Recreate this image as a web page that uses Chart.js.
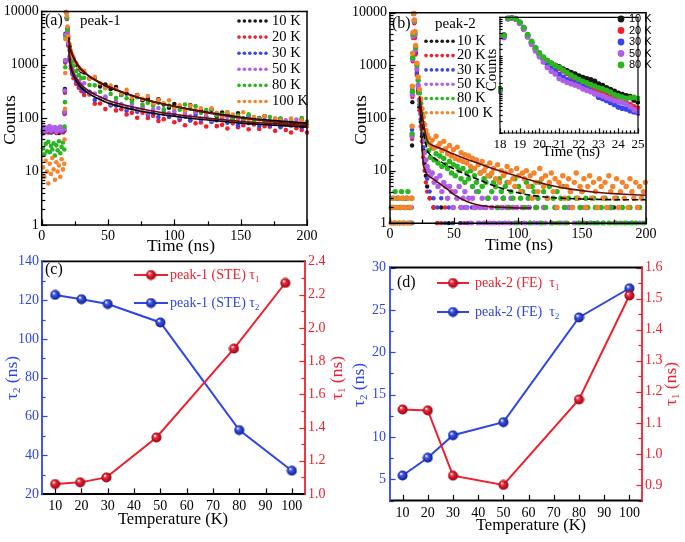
<!DOCTYPE html>
<html lang="en">
<head>
<meta charset="UTF-8">
<title>Decay curves and lifetimes</title>
<script src="https://cdn.jsdelivr.net/npm/chart.js@4"></script>
<style>
  body { margin: 0; width: 685px; height: 542px; background: #fff; position: relative; overflow: hidden; }
  canvas { position: absolute; }
</style>
</head>
<body>
<canvas id="pa" width="340" height="262" style="left:0;top:0"></canvas>
<canvas id="pb" width="345" height="262" style="left:340px;top:0"></canvas>
<canvas id="pbi" width="185" height="160" style="left:470px;top:6px"></canvas>
<canvas id="pc" width="350" height="292" style="left:0;top:250px"></canvas>
<canvas id="pd" width="345" height="292" style="left:340px;top:250px"></canvas>

<script>
// ---- data ----
const seriesLabels = ['10 K', '20 K', '30 K', '50 K', '80 K', '100 K'];

// panel (a): peak-1 decay, time (ns) vs counts
const tA = [1,2,3,4,5,6,7,8,9,10,11,12,13,14,15,16,17,
  17.25,17.5,17.75,18,18.5,19,19.5,20,21,22,23,24,26,28,30,
  32,36,40,44,48,52,56,60,64,68,72,76,80,84,88,92,96,100,104,108,112,116,120,124,128,132,136,140,144,148,
  152,156,160,164,168,172,176,180,184,188,192,196,200];
const a10 = [57,63,55,61,58,66,54,60,62,56,64,59,53,61,57,65,58,
  130,350,1200,3800,9700,7800,4800,3300,2200,1750,1450,1250,1000,850,760,
  718,556,571,392,428,351,383,272,291,226,272,218,231,185,225,181,157,184,163,144,
  177,131,143,128,144,109,128,116,103,123,99,110,85,101,109,85,88,97,77,88,78,94,72];
const a20 = [52,60,56,63,54,58,61,55,59,64,53,57,62,56,60,54,58,
  120,300,1100,3500,9500,7200,4000,2300,1200,850,680,560,440,370,320,
  273,278,186,189,148,176,140,147,117,126,102,127,101,111,89,96,105,84,93,74,
  92,80,83,70,89,71,75,64,80,68,74,62,76,63,71,69,58,71,60,54,65,60,54];
const a30 = [61,56,64,58,67,57,62,59,65,55,63,60,66,58,62,57,64,
  125,320,1150,3600,9600,7400,4200,2400,1300,950,760,630,500,420,360,
  321,313,219,236,238,174,172,180,138,154,132,155,117,126,105,131,109,119,98,108,
  91,115,94,105,85,92,103,82,92,74,92,81,85,72,92,73,80,68,85,73,80,68,84];
const a50 = [63,69,57,66,60,71,58,67,62,68,56,65,61,70,59,66,63,
  130,330,1200,3700,9700,7500,4300,2600,1450,1100,880,750,600,500,430,
  450,290,289,239,255,183,208,180,157,184,145,161,124,145,155,120,124,135,107,123,
  108,130,99,108,91,115,97,106,88,98,83,105,86,98,80,88,98,79,91,73,94,81,87];
const a80 = [27,21,33,24,36,23,30,26,34,20,31,25,37,22,29,35,26,
  70,200,900,3200,9600,7600,4500,3000,1900,1450,1150,960,760,640,560,
  572,418,412,313,365,284,238,272,236,204,246,179,194,173,194,146,173,156,144,181,
  151,168,126,142,150,114,117,127,99,113,99,118,90,99,84,105,89,98,83,93,79,101,85];
const a100 = [12,8,16,10,6,14,9,18,11,7,15,10,13,8,17,11,14,
  40,150,700,3000,9800,8200,5200,3500,2400,1850,1550,1350,1080,900,800,
  763,555,594,451,370,409,348,293,339,245,268,230,260,189,219,191,216,159,175,140,
  173,142,153,125,154,126,111,131,117,104,129,95,105,95,109,83,99,90,81,98,79,91,71];
const tFitA = [20.5,21,22,24,26,28,30,35,40,50,60,75,90,110,130,150,175,200];
const fitA100 = [3300,2500,1900,1420,1140,950,820,640,530,395,315,235,188,148,120,101,86,77];
const fitA10 = [3200,2400,1800,1350,1090,920,800,630,520,385,310,233,188,150,123,104,90,81];
const fitA50 = [2400,1500,1000,700,560,475,415,330,280,215,182,150,128,110,97,87,79,73];
const fitA20 = [2200,1300,880,630,500,425,370,295,250,193,163,135,117,101,90,81,74,68];

// panel (b): peak-2 decay; 10/20/30 K sampled every 3 ns, 50/80/100 K every 1.5 ns on the tail
const tB = [1,2,3,4,5,6,7,8,9,10,11,12,13,14,15,16,17,
  17.25,17.5,17.75,18,18.5,19,19.5,20,21,22,23,24,25,26,27,28,29,
  31,34,37,40,43,46,49,52,55,58,61,64,67,70,73,76,79,82,85,88,
  91,94,97,100,103,106,109,112,115,118,121,124,127,130,133,136,139,142,145,148,
  151,154,157,160,163,166,169,172,175,178,181,184,187,190,193,196,199];
const tBd = [1,2,3,4,5,6,7,8,9,10,11,12,13,14,15,16,17,
  17.25,17.5,17.75,18,18.5,19,19.5,20,21,22,23,24,25,26,27,28,29,
  30,31.5,33,34.5,36,37.5,39,40.5,42,43.5,45,46.5,48,49.5,51,52.5,54,55.5,57,58.5,
  60,61.5,63,64.5,66,67.5,69,70.5,72,73.5,75,76.5,78,79.5,81,82.5,84,85.5,87,88.5,
  90,91.5,93,94.5,96,97.5,99,100.5,102,103.5,105,106.5,108,109.5,111,112.5,114,115.5,117,118.5,
  120,121.5,123,124.5,126,127.5,129,130.5,132,133.5,135,136.5,138,139.5,141,142.5,144,145.5,147,148.5,
  150,151.5,153,154.5,156,157.5,159,160.5,162,163.5,165,166.5,168,169.5,171,172.5,174,175.5,177,178.5,
  180,181.5,183,184.5,186,187.5,189,190.5,192,193.5,195,196.5,198,199.5];
const b10 = [null,1,null,2,1,null,1,null,2,null,1,null,null,1,2,null,1,
  30,200,1300,3500,9500,6500,3500,1700,700,330,160,85,45,25,14,8,5,
  3,2,1,2,null,1,2,null,1,null,1,null,2,null,1,null,null,1,null,2,
  null,1,null,null,1,null,2,null,null,1,null,null,1,null,null,2,null,null,1,null,
  null,1,null,null,null,1,null,null,2,null,null,1,null,null,1,null,null];
const b20 = [1,2,null,1,3,2,1,null,2,1,3,null,2,1,null,2,1,
  40,250,1200,3300,9400,6300,3300,1600,650,300,140,70,36,18,10,6,4,
  3,2,1,1,2,null,1,null,2,1,null,1,null,2,null,1,null,null,1,null,
  2,null,1,null,null,1,null,null,2,null,1,null,null,1,null,null,1,null,null,null,
  2,null,null,1,null,null,null,1,null,null,1,null,null,null,2,null,1];
const b30 = [2,1,null,1,2,null,1,3,null,2,1,null,1,2,null,1,2,
  60,350,1500,3800,9600,6700,3600,1800,750,360,180,95,50,28,16,10,7,
  4,3,2,3,1,2,1,3,1,2,1,2,null,1,2,null,1,3,null,1,
  2,null,1,null,2,1,null,null,1,null,2,null,1,null,null,1,null,2,null,null,
  1,null,null,1,null,null,2,null,null,1,null,null,1,null,null,null,1];
const b50 = [1,null,2,1,null,3,1,2,null,1,2,null,3,1,null,2,1,
  45,280,1300,3600,9600,6800,3800,2000,850,420,220,120,62,36,22,16,12,
  10,8,9,6,7,5,8,4,6,5,3,5,4,2,4,3,5,2,3,4,
  2,3,1,3,2,4,1,2,3,1,2,3,1,2,1,3,2,1,2,3,
  1,2,1,3,2,1,2,1,null,2,1,null,2,1,null,1,2,null,1,null,
  2,1,null,null,1,null,2,null,null,1,null,1,null,2,null,null,1,null,null,1,
  null,null,2,null,1,null,null,null,1,null,null,1,null,null,null,2,null,null,1,null,
  null,null,1,null,null,null,1,null,null,null,1,null,null,null];
const b80 = [2,3,1,4,2,3,1,2,4,3,1,2,3,4,2,1,3,
  50,320,1400,3900,9700,7100,4200,2200,1000,520,300,190,120,80,55,42,34,
  24,18,27,16,21,14,19,12,17,13,11,15,9,13,8,12,10,7,11,6,
  9,7,10,5,8,6,4,9,5,7,6,3,8,4,6,5,2,7,4,3,
  5,6,2,4,3,7,1,5,3,4,2,6,3,1,5,4,2,3,6,1,
  4,2,3,5,1,3,2,4,1,3,5,2,1,3,4,2,null,3,1,2,
  4,1,3,2,null,1,3,2,1,null,2,1,3,null,1,2,null,1,3,null,
  1,2,null,1,null,2,1,null,1,null,2,null,1,null];
const b100 = [1,2,3,1,2,null,3,1,2,3,1,2,null,3,1,2,3,
  70,400,1700,4200,9800,7300,4400,2400,1100,600,350,230,150,105,75,58,48,
  42,31,38,27,45,29,33,24,36,26,21,30,19,25,17,28,16,22,15,20,
  14,19,12,17,11,16,13,9,15,10,12,8,14,9,11,7,13,6,10,8,
  9,12,6,10,7,5,11,8,4,9,7,10,5,8,3,9,6,4,11,7,
  5,8,3,6,9,4,7,2,6,5,8,3,5,7,4,2,6,9,3,5,
  4,7,2,5,8,3,6,4,2,7,5,3,6,2,8,4,5,3,7,2,
  4,6,3,5,2,7,4,3,6,2,5,3,4,6];
const tFitB = [23,24,26,28,30,35,40,45,50,60,70,80,90,100,110,125,140,160,180,200];
const fitB100 = [260,180,85,47,34,29,26,23,20.5,16.5,13.5,11,9.2,7.8,6.6,5.3,4.5,3.9,3.6,3.4];
const fitB80 = [250,150,60,32,22,17,14.5,12.5,10.8,8.3,6.6,5.3,4.4,3.8,3.4,3.1,2.95,2.85,2.8,2.8];
const fitB50 = [240,90,13,9.4,8.0,6.6,5.4,4.4,3.5,2.6,2.2,2.05,2.0,1.95,1.95,null,null,null,null,null];

// panel (b) inset: 18-25 ns
const tIn = [18.0,18.2,18.4,18.6,18.8,19.0,19.2,19.4,19.6,19.8,20.0,20.2,20.4,20.6,20.8,21.0,21.2,21.4,21.6,21.8,
  22.0,22.2,22.4,22.6,22.8,23.0,23.2,23.4,23.6,23.8,24.0,24.2,24.4,24.6,24.8,25.0];
const in10 = [140,3500,9500,9800,9300,7500,5400,3500,2300,1600,1150,900,750,640,570,520,460,410,370,340,
  300,275,255,240,220,185,170,150,135,120,108,100,93,88,72,65];
const in20 = [130,3300,9400,9800,9200,7300,5200,3300,2200,1500,1100,860,700,590,520,470,410,350,300,260,
  225,205,185,165,145,122,110,97,88,78,68,64,62,55,48,44];
const in30 = [120,3000,9300,9700,9100,7100,5000,3200,2100,1450,1050,800,620,480,400,330,280,240,215,195,
  180,160,140,125,105,85,78,70,62,55,47,44,42,38,35,33];
const in50 = [125,3100,9300,9700,9000,7000,4900,3100,2000,1350,950,700,500,400,340,260,230,205,190,175,
  160,140,128,118,108,100,92,83,76,70,66,62,56,48,40,36];
const in80 = [135,3400,9600,9900,9400,7600,5500,3600,2400,1650,1200,930,770,650,560,500,430,370,320,280,
  245,220,200,180,165,150,140,128,115,100,92,86,80,82,84,78];

// panel (c): peak-1 (STE) lifetimes
const tempC = [10, 20, 30, 50, 80, 100];
const tau2C = [122.7, 120.5, 118, 108.5, 53, 32];
const tempC1 = [10, 19.5, 29.5, 48.5, 78, 97.5];
const tau1C = [1.06, 1.07, 1.10, 1.34, 1.875, 2.27];

// panel (d): peak-2 (FE) lifetimes
const tempD = [10, 20, 30, 50, 80, 100];
const tau2D = [5.45, 7.55, 10.2, 11.75, 24.1, 27.55];
const tau1D = [1.143, 1.14, 0.93, 0.90, 1.175, 1.51];

// tick labels
const timeTicks = [0, 50, 100, 150, 200];
const countTicks = [1, 10, 100, 1000, 10000];
const insetTimeTicks = [18, 19, 20, 21, 22, 23, 24, 25];
const tempTicks = [10, 20, 30, 40, 50, 60, 70, 80, 90, 100];
const tau2TicksC = [20, 40, 60, 80, 100, 120, 140];
const tau1TicksC = [1.0, 1.2, 1.4, 1.6, 1.8, 2.0, 2.2, 2.4];
const tau2TicksD = [5, 10, 15, 20, 25, 30];
const tau1TicksD = [0.9, 1.0, 1.1, 1.2, 1.3, 1.4, 1.5, 1.6];

// ---- styling ----
const serif = '"Liberation Serif", "Times New Roman", serif';
const sans = '"Liberation Sans", Arial, sans-serif';
const seriesColors = ['#161616', '#f2202a', '#3a44ee', '#b060e6', '#2bb520', '#f5832c'];
const RED = '#f0202d';
const BLUE = '#2f45e8';

function pairs(xs, ys) {
  return xs.map((x, i) => ({ x: x, y: ys[i] })).filter(p => p.y !== null);
}

function tickList(step, min, max) {
  const out = [];
  const n = Math.round((max - min) / step);
  for (let i = 0; i <= n; i++) out.push(+(min + i * step).toFixed(4));
  return out;
}

function labelFor(majors, digits) {
  return v => {
    const m = majors.find(t => Math.abs(t - v) < 1e-6);
    if (m === undefined) return '';
    return digits ? m.toFixed(digits) : String(m);
  };
}

function axis(o) {
  return {
    type: o.type || 'linear',
    position: o.pos,
    min: o.min,
    max: o.max,
    afterBuildTicks: o.ticks ? s => { s.ticks = o.ticks.map(v => ({ value: v })); } : undefined,
    afterFit: s => {
      if (o.w !== undefined) s.width = o.w;
      if (o.h !== undefined) s.height = o.h;
    },
    grid: { display: false, drawTicks: false },
    border: { display: false },
    ticks: {
      callback: o.label,
      color: o.color || '#000',
      font: { family: serif, size: o.size || 14 },
      padding: o.pad === undefined ? 3 : o.pad,
      autoSkip: false, maxRotation: 0, minRotation: 0
    }
  };
}

function dots(xs, ys, color, r, order) {
  return { data: pairs(xs, ys), backgroundColor: color, borderWidth: 0,
    pointRadius: r, pointHoverRadius: r, order: order, clip: 2 };
}

function fit(xs, ys, color, dash) {
  return { data: pairs(xs, ys), showLine: true, borderColor: color, borderWidth: 1.6,
    borderDash: dash || [], pointRadius: 0, order: 0, tension: 0.3 };
}

function makeBall(color, dark) {
  const c = document.createElement('canvas');
  c.width = 11; c.height = 11;
  const g = c.getContext('2d');
  const grad = g.createRadialGradient(3.8, 3.6, 0.3, 5.5, 5.5, 5.4);
  grad.addColorStop(0, '#ffffff');
  grad.addColorStop(0.3, color);
  grad.addColorStop(1, dark);
  g.fillStyle = grad;
  g.beginPath();
  g.arc(5.5, 5.5, 5, 0, Math.PI * 2);
  g.fill();
  return c;
}
const redBall = makeBall('#f2283a', '#8a0010');
const blueBall = makeBall('#3c55f0', '#0c1a80');

function drawRich(ctx, t) {
  ctx.save();
  ctx.translate(t.x, t.y);
  if (t.rot) ctx.rotate(t.rot);
  ctx.fillStyle = t.color || '#000';
  ctx.textBaseline = 'middle';
  ctx.textAlign = 'left';
  const parts = typeof t.text === 'string' ? [[t.text]] : t.text;
  const fam = t.family || serif;
  const fnt = sub => (sub ? t.size * 0.62 : t.size) + 'px ' + fam;
  let w = 0;
  parts.forEach(p => { ctx.font = fnt(p[1]); w += ctx.measureText(p[0]).width; });
  let x = t.align === 'left' ? 0 : -w / 2;
  parts.forEach(p => {
    ctx.font = fnt(p[1]);
    ctx.fillText(p[0], x, p[1] ? t.size * 0.32 : 0);
    x += ctx.measureText(p[0]).width;
  });
  ctx.restore();
}

// frame, inward ticks, titles and legends
const decor = {
  id: 'decor',
  beforeDatasetsDraw(chart, args, opts) {
    if (!opts.fill) return;
    const a = chart.chartArea, ctx = chart.ctx;
    ctx.save();
    ctx.fillStyle = opts.fill;
    ctx.fillRect(a.left, a.top, a.right - a.left, a.bottom - a.top);
    ctx.restore();
  },
  afterDraw(chart, args, opts) {
    const ctx = chart.ctx, a = chart.chartArea;
    ctx.save();
    ctx.lineCap = 'square';
    (opts.inTicks || []).forEach(it => {
      const s = chart.scales[it.id];
      ctx.strokeStyle = it.color || '#000';
      ctx.lineWidth = 1.2;
      s.ticks.forEach(t => {
        const p = Math.round(s.getPixelForValue(t.value)) + 0.5;
        const len = t.label ? (it.major || 5) : (it.minor || 3);
        ctx.beginPath();
        if (it.side === 'bottom') { ctx.moveTo(p, a.bottom); ctx.lineTo(p, a.bottom - len); }
        if (it.side === 'left') { ctx.moveTo(a.left, p); ctx.lineTo(a.left + len, p); }
        if (it.side === 'right') { ctx.moveTo(a.right, p); ctx.lineTo(a.right - len, p); }
        ctx.stroke();
      });
    });
    const f = opts.frame;
    if (f) {
      ctx.lineWidth = f.width || 1.5;
      const side = (c, x1, y1, x2, y2) => {
        ctx.strokeStyle = c; ctx.beginPath(); ctx.moveTo(x1, y1); ctx.lineTo(x2, y2); ctx.stroke();
      };
      side(f.top || '#000', a.left, a.top, a.right, a.top);
      side(f.bottom || '#000', a.left, a.bottom, a.right, a.bottom);
      side(f.left || '#000', a.left, a.top, a.left, a.bottom);
      side(f.right || '#000', a.right, a.top, a.right, a.bottom);
    }
    const dl = opts.dotLegend;
    if (dl) {
      seriesLabels.forEach((lab, i) => {
        const y = dl.y0 + dl.dy * i;
        ctx.fillStyle = seriesColors[i];
        for (let k = 0; k < 6; k++) {
          ctx.beginPath();
          ctx.arc(dl.x0 + (dl.x1 - dl.x0) * k / 5, y, 1.8, 0, Math.PI * 2);
          ctx.fill();
        }
        drawRich(ctx, { text: lab, x: dl.textX, y: y, size: dl.size, align: 'left' });
      });
    }
    const il = opts.insetLegend;
    if (il) {
      il.labels.forEach((lab, i) => {
        const y = il.y0 + il.dy * i;
        ctx.fillStyle = il.colors[i];
        ctx.beginPath();
        ctx.arc(il.x, y, 3.4, 0, Math.PI * 2);
        ctx.fill();
        drawRich(ctx, { text: lab, x: il.textX, y: y, size: il.size, align: 'left', family: sans });
      });
    }
    const bl = opts.ballLegend;
    if (bl) {
      bl.rows.forEach(r => {
        ctx.strokeStyle = r.color;
        ctx.lineWidth = 2;
        ctx.beginPath(); ctx.moveTo(bl.x0, r.y); ctx.lineTo(bl.x1, r.y); ctx.stroke();
        ctx.drawImage(r.ball, bl.bx - 5.5, r.y - 5.5);
        drawRich(ctx, { text: r.text, x: bl.textX, y: r.y, size: bl.size, color: r.color, align: 'left' });
      });
    }
    (opts.texts || []).forEach(t => drawRich(ctx, t));
    ctx.restore();
  }
};
Chart.register(decor);

function baseOptions(padding, scales, decorOpts) {
  return {
    responsive: false,
    animation: false,
    events: [],
    layout: { padding: padding },
    scales: scales,
    plugins: { legend: { display: false }, tooltip: { enabled: false }, decor: decorOpts }
  };
}

const ROT = -Math.PI / 2;

// ---- (a) ----
new Chart(document.getElementById('pa'), {
  type: 'scatter',
  data: { datasets: [
    fit(tFitA, fitA100, '#6a0c0c'), fit(tFitA, fitA10, '#000000'),
    fit(tFitA, fitA50, '#6a0c0c'), fit(tFitA, fitA20, '#000000'),
    dots(tA, a100, seriesColors[5], 2.3, 1), dots(tA, a80, seriesColors[4], 2.3, 2),
    dots(tA, a50, seriesColors[3], 2.3, 3), dots(tA, a30, seriesColors[2], 2.3, 4),
    dots(tA, a20, seriesColors[1], 2.3, 5), dots(tA, a10, seriesColors[0], 2.3, 6)
  ] },
  options: baseOptions({ left: 0, right: 33, top: 9.5, bottom: 0 }, {
    x: axis({ pos: 'bottom', min: 0, max: 200, ticks: tickList(25, 0, 200), label: labelFor(timeTicks), h: 37 }),
    y: axis({ type: 'logarithmic', pos: 'left', min: 1, max: 10000, label: labelFor(countTicks), w: 41.7 })
  }, {
    frame: {},
    inTicks: [{ id: 'x', side: 'bottom' }, { id: 'y', side: 'left' }],
    dotLegend: { x0: 239, x1: 266, textX: 272, y0: 21, dy: 16.1, size: 14.5 },
    texts: [
      { text: '(a)', x: 45, y: 21, size: 16, align: 'left' },
      { text: 'peak-1', x: 80, y: 21, size: 15, align: 'left' },
      { text: 'Counts', x: 10, y: 120, size: 17.5, rot: ROT },
      { text: 'Time (ns)', x: 181, y: 246, size: 17.5 }
    ]
  })
});

// ---- (b) ----
new Chart(document.getElementById('pb'), {
  type: 'scatter',
  data: { datasets: [
    fit(tFitB, fitB100, '#6a0c0c'), fit(tFitB, fitB80, '#000000', [6, 3]), fit(tFitB, fitB50, '#5a0a0a'),
    dots(tBd, b100, seriesColors[5], 2.7, 1), dots(tBd, b80, seriesColors[4], 2.7, 2),
    dots(tBd, b50, seriesColors[3], 2.7, 3), dots(tB, b30, seriesColors[2], 2.2, 4),
    dots(tB, b20, seriesColors[1], 2.2, 5), dots(tB, b10, seriesColors[0], 2.2, 6)
  ] },
  options: baseOptions({ left: 0, right: 39, top: 12.7, bottom: 0 }, {
    x: axis({ pos: 'bottom', min: 0, max: 200, ticks: tickList(25, 0, 200), label: labelFor(timeTicks), h: 38.7 }),
    y: axis({ type: 'logarithmic', pos: 'left', min: 1, max: 10000, label: labelFor(countTicks), w: 50 })
  }, {
    frame: {},
    inTicks: [{ id: 'x', side: 'bottom' }, { id: 'y', side: 'left' }],
    dotLegend: { x0: 86, x1: 113, textX: 117, y0: 41.3, dy: 14.3, size: 14.5 },
    texts: [
      { text: '(b)', x: 52, y: 24, size: 16, align: 'left' },
      { text: 'peak-2', x: 95, y: 24, size: 15, align: 'left' },
      { text: 'Counts', x: 21, y: 120, size: 17.5, rot: ROT },
      { text: 'Time (ns)', x: 179, y: 245, size: 17.5 }
    ]
  })
});

// ---- (b) inset ----
const insetSeries = [in10, in20, in30, in50, in80];
new Chart(document.getElementById('pbi'), {
  type: 'scatter',
  data: { datasets: insetSeries.map((s, i) => dots(tIn, s, seriesColors[i], 2.8, 5 - i)) },
  options: baseOptions({ left: 0, right: 17, top: 8, bottom: 0 }, {
    x: axis({ pos: 'bottom', min: 18, max: 25, ticks: tickList(0.2, 18, 25), label: labelFor(insetTimeTicks), h: 33, size: 13, pad: 4 }),
    y: axis({ type: 'logarithmic', pos: 'left', min: 10, max: 10000, label: () => '', w: 30 })
  }, {
    fill: '#ffffff',
    frame: { width: 1.2 },
    inTicks: [{ id: 'x', side: 'bottom', major: 4, minor: 2 }, { id: 'y', side: 'left', major: 4, minor: 2 }],
    insetLegend: { x: 151, textX: 159, y0: 13, dy: 11.5, size: 11, labels: seriesLabels.slice(0, 5), colors: seriesColors.slice(0, 5) },
    texts: [
      { text: 'Time (ns)', x: 101, y: 146, size: 15 },
      { text: 'Counts', x: 22, y: 64, size: 15, rot: ROT }
    ]
  })
});

// ---- (c) ----
new Chart(document.getElementById('pc'), {
  type: 'scatter',
  data: { datasets: [
    { data: pairs(tempC1, tau1C), yAxisID: 'y2', showLine: true, borderColor: RED, borderWidth: 2,
      pointStyle: redBall, pointRadius: 5, order: 1 },
    { data: pairs(tempC, tau2C), yAxisID: 'y', showLine: true, borderColor: BLUE, borderWidth: 2,
      pointStyle: blueBall, pointRadius: 5, order: 2 }
  ] },
  options: baseOptions({ left: 0, right: 0, top: 10.3, bottom: 0 }, {
    x: axis({ pos: 'bottom', min: 5, max: 105, ticks: tempTicks, label: labelFor(tempTicks), h: 48, pad: 4 }),
    y: axis({ pos: 'left', min: 20, max: 140, ticks: tickList(10, 20, 140), label: labelFor(tau2TicksC), w: 42, color: BLUE }),
    y2: axis({ pos: 'right', min: 1.0, max: 2.4, ticks: tickList(0.1, 1.0, 2.4), label: labelFor(tau1TicksC, 1), w: 45, color: RED })
  }, {
    frame: { left: BLUE, right: RED, width: 1.8 },
    inTicks: [{ id: 'x', side: 'bottom' }, { id: 'y', side: 'left', color: BLUE }, { id: 'y2', side: 'right', color: RED }],
    ballLegend: { x0: 135, x1: 167, bx: 151, textX: 170, size: 14, rows: [
      { y: 25, color: RED, ball: redBall, text: [['peak-1 (STE) τ'], ['1', 1]] },
      { y: 53, color: BLUE, ball: blueBall, text: [['peak-1 (STE) τ'], ['2', 1]] }
    ] },
    texts: [
      { text: '(c)', x: 45, y: 20, size: 16, align: 'left' },
      { text: [['τ'], ['2', 1], [' (ns)']], x: 12, y: 128, size: 17.5, rot: ROT, color: BLUE },
      { text: [['τ'], ['1', 1], [' (ns)']], x: 337, y: 128, size: 17.5, rot: ROT, color: RED },
      { text: 'Temperature (K)', x: 173, y: 270, size: 16.5 }
    ]
  })
});

// ---- (d) ----
new Chart(document.getElementById('pd'), {
  type: 'scatter',
  data: { datasets: [
    { data: pairs(tempD, tau1D), yAxisID: 'y2', showLine: true, borderColor: RED, borderWidth: 2,
      pointStyle: redBall, pointRadius: 5, order: 1 },
    { data: pairs(tempD, tau2D), yAxisID: 'y', showLine: true, borderColor: BLUE, borderWidth: 2,
      pointStyle: blueBall, pointRadius: 5, order: 2 }
  ] },
  options: baseOptions({ left: 0, right: 0, top: 17.5, bottom: 0 }, {
    x: axis({ pos: 'bottom', min: 5, max: 105, ticks: tempTicks, label: labelFor(tempTicks), h: 41.5, pad: 4 }),
    y: axis({ pos: 'left', min: 2.5, max: 30, ticks: tickList(2.5, 2.5, 30), label: labelFor(tau2TicksD), w: 50, color: BLUE, pad: 4 }),
    y2: axis({ pos: 'right', min: 0.85, max: 1.6, ticks: tickList(0.05, 0.85, 1.6), label: labelFor(tau1TicksD, 1), w: 43, color: RED })
  }, {
    frame: { left: BLUE, right: RED, width: 1.8 },
    inTicks: [{ id: 'x', side: 'bottom' }, { id: 'y', side: 'left', color: BLUE }, { id: 'y2', side: 'right', color: RED }],
    ballLegend: { x0: 98, x1: 128, bx: 113, textX: 135, size: 14, rows: [
      { y: 33, color: RED, ball: redBall, text: [['peak-2 (FE)  τ'], ['1', 1]] },
      { y: 62, color: BLUE, ball: blueBall, text: [['peak-2 (FE)  τ'], ['2', 1]] }
    ] },
    texts: [
      { text: '(d)', x: 57, y: 33, size: 16, align: 'left' },
      { text: [['τ'], ['2', 1], [' (ns)']], x: 19, y: 135, size: 17.5, rot: ROT, color: BLUE },
      { text: [['τ'], ['1', 1], [' (ns)']], x: 331, y: 134, size: 17.5, rot: ROT, color: RED },
      { text: 'Temperature (K)', x: 191, y: 276, size: 16.5 }
    ]
  })
});
</script>
</body>
</html>
